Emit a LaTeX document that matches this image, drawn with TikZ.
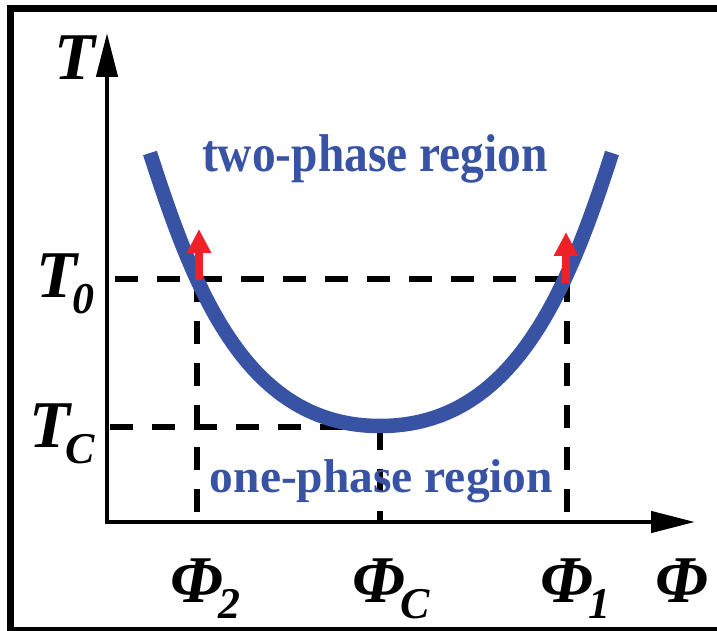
\documentclass[tikz,border=0pt]{standalone}
\usepackage{fontspec}
\setmainfont{Liberation Serif}
\usetikzlibrary{arrows.meta}
\definecolor{phaseblue}{HTML}{3953A4}
\definecolor{heatred}{HTML}{EE2128}
\newcommand{\subidx}[1]{\kern-0.05cm\raisebox{-0.16cm}{\fontsize{12.5}{13}\selectfont #1}}

\begin{document}
\begin{tikzpicture}[
    axis/.style={line width=0.045cm, -{Triangle[length=4.4mm, width=2.1mm]}},
    guide/.style={line width=0.055cm, dash pattern=on 0.23cm off 0.19cm},
    curve/.style={draw=phaseblue, line width=0.145cm},
    heat/.style={draw=heatred, line width=0.085cm, -{Triangle[length=2.4mm, width=2.3mm]}},
    lbl/.style={font=\fontsize{19}{19}\selectfont\bfseries\itshape, inner sep=0pt, anchor=base west},
    region/.style={font=\fontsize{13.5}{14}\selectfont\bfseries, text=phaseblue, inner sep=0pt, anchor=base}]
    \useasboundingbox (0,0) rectangle (7.17,6.30);
    \clip (0,0) rectangle (7.17,6.30);
    % frame
    \draw[line width=0.07cm] (0.105,0) rectangle (7.40,6.215);
    % reference points
    \coordinate (t0) at (1.15,3.51);
    \coordinate (tc) at (1.10,2.03);
    \coordinate (p2top) at (1.97,3.51);
    \coordinate (p1top) at (5.67,3.51);
    \coordinate (pctop) at (3.80,2.03);
    \coordinate (p2) at (1.97,1.08);
    \coordinate (p1) at (5.67,1.08);
    \coordinate (pc) at (3.80,1.08);
    % dashed guides
    \draw[guide] (t0) -- (p1top);
    \draw[guide] (tc) -- (pctop);
    \draw[guide] (p2top) -- (p2);
    \draw[guide] (p1top) -- (p1);
    \draw[guide] (pctop) -- (pc);
    % axes
    \coordinate (origin) at (1.07,1.08);
    \coordinate (ytip) at (1.07,5.97);
    \coordinate (xtip) at (6.95,1.08);
    \draw[axis] (1.07,1.06) -- (ytip);
    \draw[axis] (1.05,1.08) -- (xtip);
    % coexistence curve
    \draw[curve] (1.50,4.77) .. controls (1.95,3.37) and (2.47,2.04) .. (3.80,2.04)
                 .. controls (5.13,2.04) and (5.67,3.37) .. (6.12,4.77);
    % heating arrows
    \coordinate (h2) at (1.99,3.50);
    \coordinate (h2tip) at (1.99,4.01);
    \coordinate (h1) at (5.66,3.47);
    \coordinate (h1tip) at (5.66,3.98);
    \draw[heat] (h2) -- (h2tip);
    \draw[heat] (h1) -- (h1tip);
    % regions
    \node[region] (two) at (3.75,4.58) {\scalebox{1}[1.12]{two-phase region}};
    \node[region] (one) at (3.815,1.37) {one-phase region};
    % axis labels
    \node[lbl] (T) at (0.54,5.50) {T};
    \node[lbl] (T0) at (0.36,3.32) {T\subidx{0}};
    \node[lbl] (TC) at (0.29,1.82) {T\subidx{C}};
    \node[lbl] (Phi2) at (1.70,0.28) {Φ\subidx{2}};
    \node[lbl] (PhiC) at (3.52,0.28) {Φ\subidx{C}};
    \node[lbl] (Phi1) at (5.40,0.28) {Φ\subidx{1}};
    \node[lbl] (Phi) at (6.55,0.28) {Φ};
\end{tikzpicture}
\end{document}
